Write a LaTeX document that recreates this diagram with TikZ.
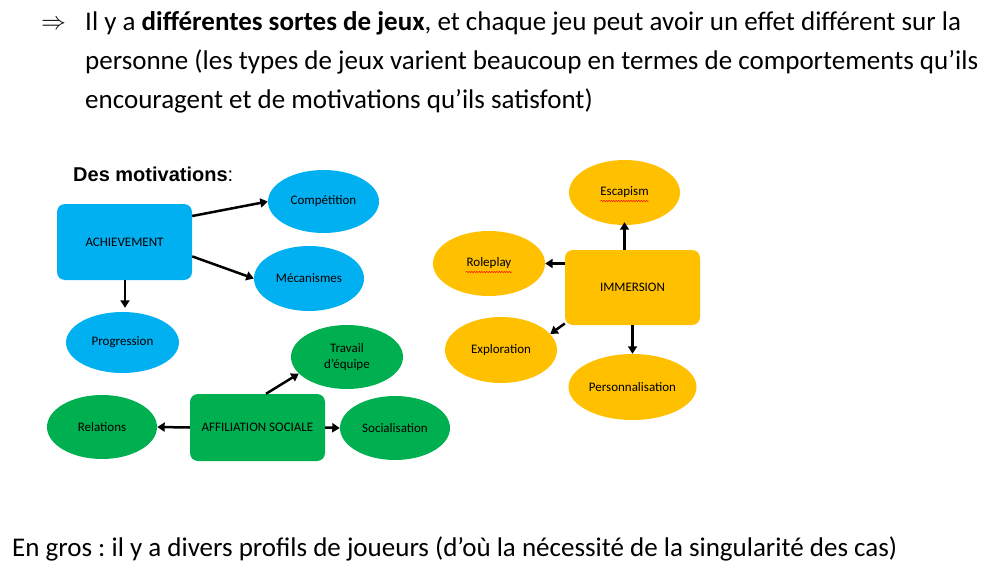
\documentclass[tikz,border=0pt]{standalone}
\usepackage{fontspec}
\setmainfont{Carlito}
\newfontfamily\arialfont{Liberation Sans}
\usetikzlibrary{shapes.geometric,arrows.meta,calc,decorations.pathmorphing}
\definecolor{cblue}{HTML}{00B0F0}
\definecolor{cgreen}{HTML}{00B050}
\definecolor{corange}{HTML}{FFC000}
\frenchspacing
\tikzset{
  box/.style={rectangle,rounded corners=8pt,minimum width=135pt,inner sep=0pt,font=\fontsize{13}{15}\selectfont,align=center},
  oval/.style={ellipse,inner sep=0pt,font=\fontsize{13}{16}\selectfont,align=center},
  arr/.style={line width=2.5pt,-{Triangle[length=7.5pt,width=9pt]}},
  squiggle/.style={red,line width=0.5pt,decorate,decoration={snake,amplitude=0.6pt,segment length=2.5pt}},
  topline/.style={anchor=base west,inner sep=0pt,font=\fontsize{27}{32}\selectfont},
}
\begin{document}
\begin{tikzpicture}[x=1pt,y=-1pt]
\useasboundingbox (0,0) rectangle (996,583);
% top text
\node[anchor=base west,inner sep=0pt,font=\fontsize{28}{32}\selectfont] (arrowsym) at (41,29.5) {$\Rightarrow$};
\node[topline] (l1) at (85,31) {Il y a \textbf{différentes sortes de jeux}, et chaque jeu peut avoir un effet différent sur la};
\node[topline] (l2) at (85,70) {personne (les types de jeux varient beaucoup en termes de comportements qu’ils};
\node[topline] (l3) at (85,108.5) {encouragent et de motivations qu’ils satisfont)};
% title
\node[anchor=base west,inner sep=0pt,font=\arialfont\fontsize{20}{24}\selectfont] (title) at (73,181) {\textbf{Des motivations}:};
% blue group
\node[box,fill=cblue,minimum height=76pt] (ach) at (124.5,242) {ACHIEVEMENT};
\node[oval,fill=cblue,minimum width=111pt,minimum height=63pt] (comp) at (323.5,201.5) {Compétition};
\node[oval,fill=cblue,minimum width=110pt,minimum height=65pt] (mec) at (309,278.5) {Mécanismes};
\node[oval,fill=cblue,minimum width=113pt,minimum height=61pt] (prog) at (122.5,342.5) {Progression};
\draw[arr] (ach.21) -- (comp.west);
\draw[arr] (ach.-12) -- (mec.west);
\draw[arr] ($(ach.south)+(0.5,0)$) -- ($(ach.south|-prog.north)+(0.5,-4)$);
% green group
\node[box,fill=cgreen,minimum height=67pt] (aff) at (257.5,427.5) {AFFILIATION SOCIALE};
\node[oval,fill=cgreen,minimum width=112pt,minimum height=64pt] (trav) at (347,357) {Travail\\d’équipe};
\node[oval,fill=cgreen,minimum width=110pt,minimum height=64pt] (rel) at (102,427) {Relations};
\node[oval,fill=cgreen,minimum width=110pt,minimum height=64pt] (soc) at (395,428) {Socialisation};
\draw[arr] ($(aff.north)+(8.5,0)$) -- (trav.199);
\draw[arr] (aff.west) -- (rel.east);
\draw[arr] (aff.east) -- (soc.west);
% orange group
\node[box,fill=corange,minimum height=75pt] (imm) at (632.5,287.5) {IMMERSION};
\node[oval,fill=corange,minimum width=111pt,minimum height=65pt] (esc) at (624.5,192.5) {Escapism};
\node[oval,fill=corange,minimum width=112pt,minimum height=65pt] (role) at (489,263.5) {Roleplay};
\node[oval,fill=corange,minimum width=112pt,minimum height=66pt] (expl) at (501,350) {Exploration};
\node[oval,fill=corange,minimum width=128pt,minimum height=66pt] (pers) at (632.5,387) {Personnalisation};
\draw[arr] (imm.north-|esc.south) -- ($(esc.south)+(0,-3)$);
\draw[arr] (imm.west|-role.east) -- (role.east);
\draw[arr] (imm.208) -- (expl.18);
\draw[arr] (imm.south) -- (pers.north);
\draw[squiggle] ($(esc.center)+(-24,8.5)$) -- ++(48,0);
\draw[squiggle] ($(role.center)+(-23,8.5)$) -- ++(46,0);
% bottom text
\node[anchor=base west,inner sep=0pt,font=\fontsize{27}{32}\selectfont] (bottom) at (12,556) {En gros : il y a divers profils de joueurs (d’où la nécessité de la singularité des cas)};
\end{tikzpicture}
\end{document}
